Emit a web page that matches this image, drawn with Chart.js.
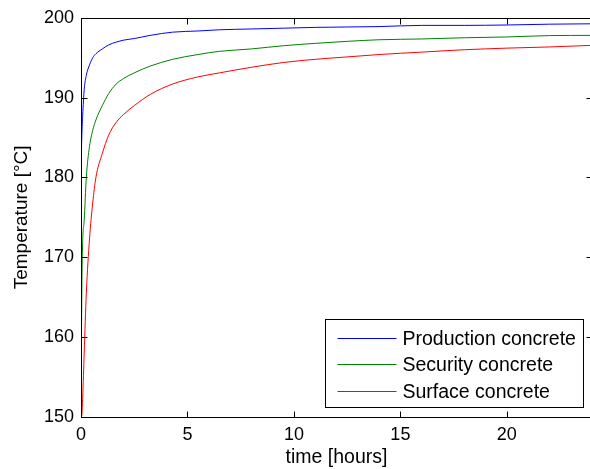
<!DOCTYPE html>
<html>
<head>
<meta charset="utf-8">
<script src="https://cdn.jsdelivr.net/npm/chart.js@4/dist/chart.umd.min.js"></script>
<style>
  html, body { margin: 0; padding: 0; background: #fff; overflow: hidden; }
  #wrap { width: 590px; height: 469px; overflow: hidden; }
</style>
</head>
<body>
<div id="wrap"><canvas id="chart" width="596" height="469"></canvas></div>
<script>
// sample times in hours
const timeHours = [0, 0.04, 0.08, 0.15, 0.25, 0.4, 0.55, 0.7, 1.0, 1.3, 1.65, 2.0, 2.5, 3.25, 4.3, 5.5, 6.5, 8, 9.5, 11, 12.5, 14, 16, 18, 20, 22, 24];

// temperatures in °C for each concrete layer
const productionTemp = [181, 185.3, 187.8, 191.0, 192.8, 194.1, 195.0, 195.5, 196.1, 196.6, 196.95, 197.2, 197.4, 197.8, 198.2, 198.35, 198.5, 198.6, 198.7, 198.8, 198.85, 198.9, 199.05, 199.05, 199.1, 199.2, 199.25];
const securityTemp = [150.5, 166, 172, 174.6, 180.0, 183.9, 185.9, 187.2, 189.0, 190.5, 191.7, 192.4, 193.1, 193.95, 194.8, 195.4, 195.8, 196.1, 196.5, 196.8, 197.05, 197.25, 197.35, 197.5, 197.6, 197.77, 197.8];
const surfaceTemp = [150, 150.3, 152.5, 158, 165.5, 172.3, 176.8, 180.0, 183.0, 185.3, 186.9, 187.9, 189.0, 190.4, 191.7, 192.6, 193.1, 193.8, 194.4, 194.8, 195.1, 195.4, 195.7, 196.0, 196.2, 196.35, 196.55];

const seriesNames = ['Production concrete', 'Security concrete', 'Surface concrete'];
const seriesColors = ['#0000ff', '#008000', '#ff0000'];

const xTicks = [0, 5, 10, 15, 20];
const yTicks = [150, 160, 170, 180, 190, 200];

const FONT = 'Liberation Sans, Arial, Helvetica, sans-serif';

function points(values) {
    return values.map((v, i) => ({ x: timeHours[i], y: v }));
}

// matlab-style box with inward ticks on all four sides
const axesBox = {
    id: 'axesBox',
    afterDatasetsDraw(chart) {
        const { ctx, chartArea: a, scales } = chart;
        const l = Math.round(a.left) + 0.5, r = Math.round(a.right) + 0.5;
        const t = Math.round(a.top) + 0.5, b = Math.round(a.bottom) + 0.5;
        const len = 6;
        ctx.save();
        ctx.strokeStyle = '#000';
        ctx.lineWidth = 1;
        ctx.strokeRect(l, t, r - l, b - t);
        ctx.beginPath();
        xTicks.forEach(v => {
            const px = Math.round(scales.x.getPixelForValue(v)) + 0.5;
            ctx.moveTo(px, b); ctx.lineTo(px, b - len);
            ctx.moveTo(px, t); ctx.lineTo(px, t + len);
        });
        yTicks.forEach(v => {
            const py = Math.round(scales.y.getPixelForValue(v)) + 0.5;
            ctx.moveTo(l, py); ctx.lineTo(l + len, py);
            ctx.moveTo(r, py); ctx.lineTo(r - len, py);
        });
        ctx.stroke();
        ctx.restore();
    }
};

// boxed legend in the lower right corner of the axes
const boxLegend = {
    id: 'boxLegend',
    afterDraw(chart) {
        const { ctx, chartArea: a } = chart;
        const w = 258, h = 88, rowH = 26.5;
        const right = Math.round(a.right) - 8.5;
        const bottom = Math.round(a.bottom) - 9.5;
        const left = right - w, top = bottom - h;
        ctx.save();
        ctx.fillStyle = '#fff';
        ctx.fillRect(left, top, w, h);
        ctx.strokeStyle = '#000';
        ctx.lineWidth = 1;
        ctx.strokeRect(left, top, w, h);
        ctx.font = '19.5px ' + FONT;
        ctx.textBaseline = 'middle';
        chart.data.datasets.forEach((ds, i) => {
            const y = Math.round(top + 18 + i * rowH) + 0.5;
            ctx.strokeStyle = ds.borderColor;
            ctx.beginPath();
            ctx.moveTo(left + 12, y);
            ctx.lineTo(left + 71, y);
            ctx.stroke();
            ctx.fillStyle = '#000';
            ctx.fillText(ds.label, left + 77, y + 1);
        });
        ctx.restore();
    }
};

new Chart(document.getElementById('chart'), {
    type: 'line',
    data: {
        datasets: [productionTemp, securityTemp, surfaceTemp].map((vals, i) => ({
            label: seriesNames[i],
            data: points(vals),
            borderColor: seriesColors[i],
            backgroundColor: seriesColors[i],
            borderWidth: 1,
            pointRadius: 0,
            fill: false,
            cubicInterpolationMode: 'monotone',
        })),
    },
    options: {
        responsive: false,
        animation: false,
        devicePixelRatio: 1,
        layout: { padding: { top: 17, right: 4, left: 0, bottom: 0 } },
        plugins: {
            legend: { display: false },
            tooltip: { enabled: false },
        },
        scales: {
            x: {
                type: 'linear',
                min: 0,
                max: 24,
                afterBuildTicks: s => { s.ticks = xTicks.map(v => ({ value: v })); },
                afterFit: s => { s.height = 52; },
                grid: { display: false, drawTicks: false },
                border: { display: false },
                ticks: { color: '#000', padding: 7, maxRotation: 0, font: { family: FONT, size: 18 } },
                title: {
                    display: true,
                    text: 'time [hours]',
                    color: '#000',
                    padding: { top: 0, bottom: 0 },
                    font: { family: FONT, size: 19.5 },
                },
            },
            y: {
                min: 150,
                max: 200,
                afterBuildTicks: s => { s.ticks = yTicks.map(v => ({ value: v })); },
                afterFit: s => { s.width = 81; },
                grid: { display: false, drawTicks: false },
                border: { display: false },
                ticks: { color: '#000', padding: 7, font: { family: FONT, size: 18 } },
                title: {
                    display: true,
                    text: 'Temperature [°C]',
                    color: '#000',
                    padding: { top: 10, bottom: 0 },
                    font: { family: FONT, size: 19 },
                },
            },
        },
    },
    plugins: [axesBox, boxLegend],
});
</script>
</body>
</html>
